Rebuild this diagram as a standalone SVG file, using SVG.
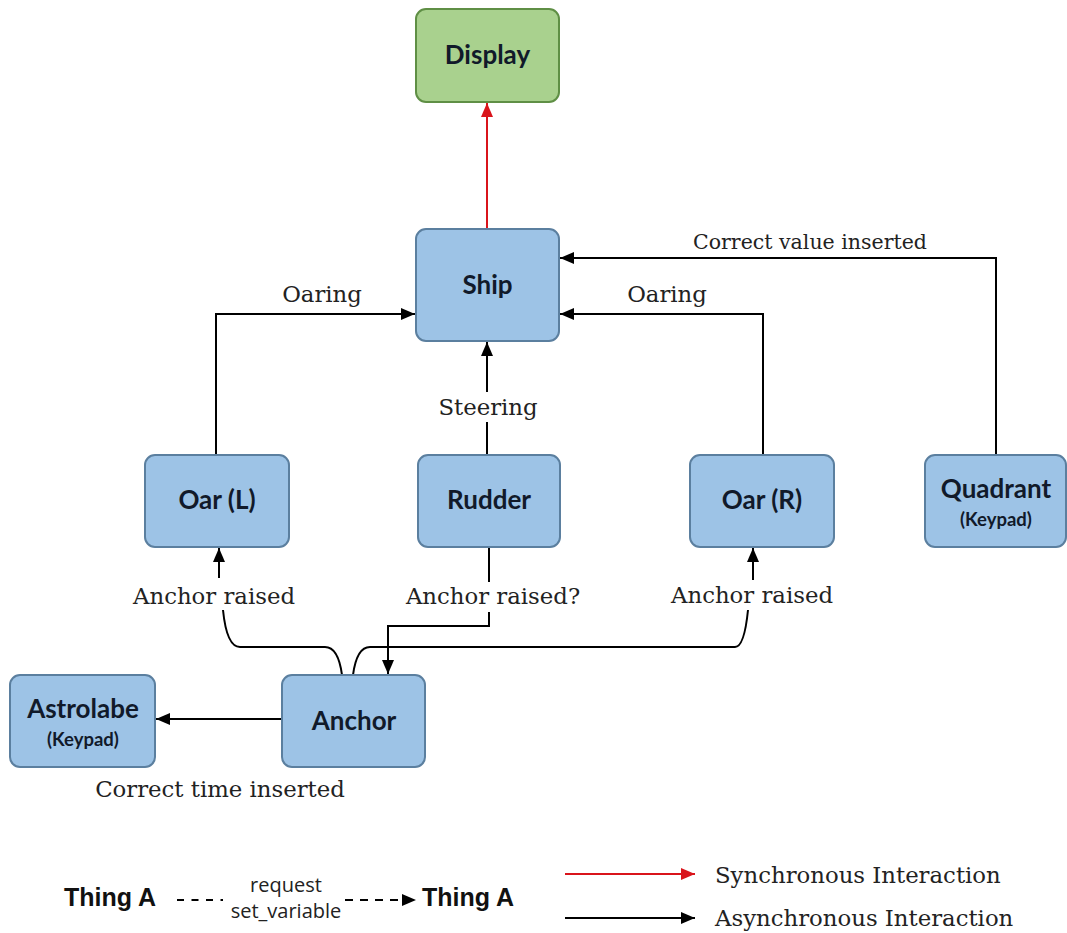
<svg xmlns="http://www.w3.org/2000/svg" width="1067" height="933" viewBox="0 0 1067 933">
  <style>
    .box { fill: #9dc3e6; stroke: #5b7f9f; stroke-width: 2; }
    .green { fill: #a9d18e; stroke: #5f8f45; stroke-width: 2; }
    .name { font-family: Lato, "Open Sans", sans-serif; font-weight: bold; font-size: 26px; fill: #111a2a; text-anchor: middle; }
    .sub { font-family: Lato, "Open Sans", sans-serif; font-weight: bold; font-size: 18.5px; fill: #111a2a; text-anchor: middle; }
    .lbl { font-family: "DejaVu Serif", serif; font-size: 22.8px; fill: #222; text-anchor: middle; }
    .wire { fill: none; stroke: #000; stroke-width: 2; }
    .sync { fill: none; stroke: #d9141b; stroke-width: 2; }
    .mask { fill: #fff; }
    .leg { font-family: "Open Sans", "Liberation Sans", sans-serif; font-size: 20px; fill: #222; text-anchor: middle; }
    .legb { font-family: "Liberation Sans", Arial, sans-serif; font-weight: bold; font-size: 25px; fill: #111; }
  </style>
  <defs>
    <marker id="ah" viewBox="0 0 14 12" refX="14" refY="6" markerWidth="14" markerHeight="12" markerUnits="userSpaceOnUse" orient="auto">
      <path d="M0,0 L14,6 L0,12 Z" fill="#000"/>
    </marker>
    <marker id="ahr" viewBox="0 0 14 12" refX="14" refY="6" markerWidth="14" markerHeight="12" markerUnits="userSpaceOnUse" orient="auto">
      <path d="M0,0 L14,6 L0,12 Z" fill="#d9141b"/>
    </marker>
  </defs>

  <!-- connectors -->
  <g id="connectors">
    <path class="sync" d="M487,229 V103" marker-end="url(#ahr)"/>
    <path class="wire" d="M216,455 V314 H415" marker-end="url(#ah)"/>
    <path class="wire" d="M763,455 V314 H560" marker-end="url(#ah)"/>
    <path class="wire" d="M996,455 V258 H560" marker-end="url(#ah)"/>
    <path class="wire" d="M487,455 V342" marker-end="url(#ah)"/>
    <!-- anchor to oar (L) -->
    <path class="wire" d="M342,675 C340,660 336,647 325,647 H240 C230,647 225,630 223,610"/>
    <path class="wire" d="M219,578 V548" marker-end="url(#ah)"/>
    <!-- anchor to oar (R) -->
    <path class="wire" d="M353,675 C355,660 359,647 370,647 H735 C742,647 746,630 748,610"/>
    <path class="wire" d="M753,580 V548" marker-end="url(#ah)"/>
    <!-- rudder to anchor -->
    <path class="wire" d="M489,547 V626 H388 V674" marker-end="url(#ah)"/>
    <!-- anchor to astrolabe -->
    <path class="wire" d="M282,719 H156" marker-end="url(#ah)"/>

    <rect class="mask" x="436" y="392" width="104" height="30"/>
    <rect class="mask" x="402" y="582" width="182" height="30"/>
    <text class="lbl" x="322" y="302">Oaring</text>
    <text class="lbl" x="667" y="302">Oaring</text>
    <text class="lbl" x="810" y="249" style="font-size:20.5px">Correct value inserted</text>
    <text class="lbl" x="488" y="415">Steering</text>
    <text class="lbl" x="214" y="604">Anchor raised</text>
    <text class="lbl" x="493" y="604">Anchor raised?</text>
    <text class="lbl" x="752" y="603">Anchor raised</text>
    <text class="lbl" x="220" y="797">Correct time inserted</text>
  </g>

  <!-- nodes -->
  <g id="display">
    <rect class="green" x="416" y="9" width="143" height="93" rx="10"/>
    <text class="name" x="487.5" y="64">Display</text>
  </g>
  <g id="ship">
    <rect class="box" x="416" y="229" width="143" height="112" rx="10"/>
    <text class="name" x="487.5" y="294">Ship</text>
  </g>
  <g id="oar-l">
    <rect class="box" x="145" y="455" width="144" height="92" rx="10"/>
    <text class="name" x="217" y="509">Oar (L)</text>
  </g>
  <g id="rudder">
    <rect class="box" x="418" y="455" width="142" height="92" rx="10"/>
    <text class="name" x="489" y="509">Rudder</text>
  </g>
  <g id="oar-r">
    <rect class="box" x="690" y="455" width="144" height="92" rx="10"/>
    <text class="name" x="762" y="509">Oar (R)</text>
  </g>
  <g id="quadrant">
    <rect class="box" x="925" y="455" width="141" height="92" rx="10"/>
    <text class="name" x="996" y="498">Quadrant</text>
    <text class="sub" x="996" y="526">(Keypad)</text>
  </g>
  <g id="astrolabe">
    <rect class="box" x="10" y="675" width="145" height="92" rx="10"/>
    <text class="name" x="83" y="718">Astrolabe</text>
    <text class="sub" x="83" y="746">(Keypad)</text>
  </g>
  <g id="anchor">
    <rect class="box" x="282" y="675" width="143" height="92" rx="10"/>
    <text class="name" x="354" y="730">Anchor</text>
  </g>

  <!-- legend -->
  <g id="legend">
    <text class="legb" x="64" y="906">Thing A</text>
    <path class="wire" d="M177,900 H223" stroke-dasharray="7,7.5" stroke-width="2.5"/>
    <text class="leg" x="286" y="892">request</text>
    <text class="leg" x="286" y="918">set_variable</text>
    <path class="wire" d="M345,900 H416" stroke-dasharray="8,7" stroke-width="2.5" marker-end="url(#ah)"/>
    <text class="legb" x="422" y="906">Thing A</text>
    <path class="sync" d="M565,874 H695" marker-end="url(#ahr)"/>
    <text class="lbl" x="715" y="883" style="text-anchor:start">Synchronous Interaction</text>
    <path class="wire" d="M565,918 H695" marker-end="url(#ah)"/>
    <text class="lbl" x="715" y="926" style="text-anchor:start">Asynchronous Interaction</text>
  </g>
</svg>
